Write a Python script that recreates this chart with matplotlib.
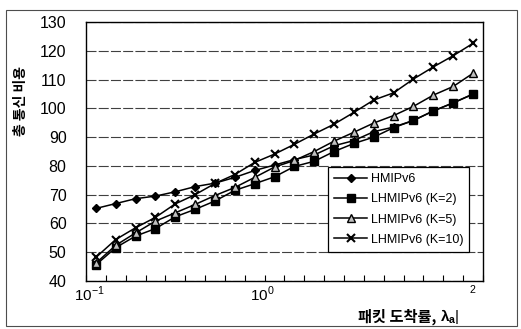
import numpy as np
import matplotlib
matplotlib.use("Agg")
import matplotlib.pyplot as plt
from matplotlib.patches import Rectangle
from matplotlib.ticker import FixedLocator, MultipleLocator

plt.rcParams["font.family"] = ["Liberation Sans", "Noto Sans CJK KR", "DejaVu Sans"]
plt.rcParams["mathtext.fontset"] = "custom"
plt.rcParams["mathtext.rm"] = "Liberation Sans"
plt.rcParams["mathtext.bf"] = "Liberation Sans:bold"

# values, one per category (20 arrival-rate steps)
series_names = ["HMIPv6", "LHMIPv6 (K=2)", "LHMIPv6 (K=5)", "LHMIPv6 (K=10)"]
hmipv6 = [65.2, 66.9, 68.6, 69.5, 71.0, 72.8, 74.0, 76.0, 78.4, 80.3,
          82.2, 83.8, 87.0, 88.8, 91.9, 93.5, 95.8, 99.1, 101.9, 104.9]
lhmip_k2 = [45.6, 51.6, 55.6, 58.2, 62.3, 64.9, 67.8, 71.5, 73.8, 76.2,
            79.8, 81.6, 85.0, 87.8, 90.0, 93.3, 95.8, 99.1, 101.9, 105.0]
lhmip_k5 = [46.2, 52.4, 56.7, 60.8, 63.7, 66.6, 69.7, 72.5, 76.0, 79.6,
            81.9, 85.0, 88.6, 91.7, 94.9, 97.5, 100.7, 104.6, 107.6, 112.2]
lhmip_k10 = [48.2, 54.4, 58.5, 62.1, 66.8, 70.0, 73.9, 77.0, 81.2, 84.1,
             87.5, 91.1, 94.5, 98.6, 102.9, 105.4, 110.2, 114.4, 118.3, 122.6]

xtick_pos = [-0.35, 8.4, 19.0]
xtick_labels = [r"$10^{-1}$", r"$10^{0}$", r"$^{2}$"]

styles = [
    dict(marker="D", ms=4.5, mfc="k", mec="k"),
    dict(marker="s", ms=5.5, mfc="k", mec="k"),
    dict(marker="^", ms=6, mfc="0.75", mec="k", mew=1.0),
    dict(marker="x", ms=6, mec="k", mew=1.5),
]

fig = plt.figure(figsize=(5.21, 3.29), dpi=100)
ax = fig.add_axes([0.165, 0.146, 0.762, 0.787])

x = np.arange(len(hmipv6))
for name, ys, st in zip(series_names, [hmipv6, lhmip_k2, lhmip_k5, lhmip_k10], styles):
    ax.plot(x, ys, color="k", lw=1.1, label=name, **st)

ax.set_xlim(-0.5, len(x) - 0.5)
ax.set_ylim(40, 130)
ax.yaxis.set_major_locator(MultipleLocator(10))
ax.yaxis.grid(True, color="0.25", lw=0.8, ls=(0, (9, 2)))
ax.set_axisbelow(True)

ax.set_xticks(xtick_pos)
ax.set_xticklabels(xtick_labels)
ax.xaxis.set_minor_locator(FixedLocator(np.arange(-0.5, len(x), 1.0)))
ax.tick_params(axis="x", which="major", length=0, pad=3, labelsize=11)
ax.tick_params(axis="x", which="minor", direction="in", length=4, width=0.8)
ax.tick_params(axis="y", length=0, pad=14, labelsize=11.5)
for sp in ax.spines.values():
    sp.set_linewidth(1.0)
    sp.set_color("k")

leg = ax.legend(loc="upper left", bbox_to_anchor=(0.61, 0.44), borderaxespad=0,
                fancybox=False, edgecolor="k", framealpha=1, fontsize=9,
                handlelength=2.6, handletextpad=0.3, labelspacing=0.65, borderpad=0.5)
leg.get_frame().set_linewidth(0.9)

kr = ["Noto Sans CJK KR", "DejaVu Sans"]
fig.text(21 / 521, 1 - 101 / 329, "총 통신 비용", rotation=90, ha="center", va="center",
         fontsize=10, fontweight="bold", family=kr)

# x title: Korean part and the math symbol are separate texts (mathtext has no CJK fallback)
xl = fig.text(358 / 521, 1 - 317 / 329, "패킷 도착률, ", ha="left", va="center",
              fontsize=11, fontweight="bold", family=kr)
fig.canvas.draw()
bb = xl.get_window_extent()
fig.text(bb.x1, (bb.y0 + bb.y1) / 2, r"$\mathbf{\lambda_a}$|", ha="left", va="center",
         fontsize=11, transform=None)

fig.patches.append(Rectangle((6 / 521, 1 - 326 / 329), 511 / 521, 316 / 329,
                             transform=fig.transFigure, fill=False, lw=0.8, ec="0.3"))

fig.savefig("out.png", dpi=100)
